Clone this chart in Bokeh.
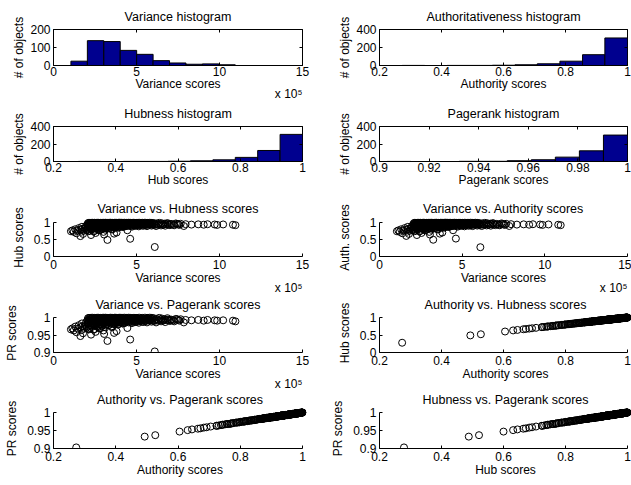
from bokeh.plotting import figure
from bokeh.layouts import column, row
from bokeh.models import Range1d, FixedTicker, LinearAxis, Title
from bokeh.embed import file_html
from bokeh.resources import INLINE

# ---------------- data ----------------
# histogram bin edges and counts
var_edges = [1.05, 2.04, 3.03, 4.02, 5.01, 6.00, 6.99, 7.98, 8.97, 9.96, 10.95]   # x 10^5
var_counts = [24, 138, 133, 84, 62, 27, 14, 7, 9, 4]
auth_edges = [0.273, 0.346, 0.418, 0.491, 0.564, 0.637, 0.709, 0.782, 0.855, 0.927, 1.0]
auth_counts = [1, 0, 1, 1, 3, 8, 19, 48, 120, 306]
hub_edges = [0.28, 0.352, 0.424, 0.496, 0.568, 0.64, 0.712, 0.784, 0.856, 0.928, 1.0]
hub_counts = [1, 0, 1, 1, 3, 8, 19, 47, 126, 310]
pr_edges = [0.903, 0.9127, 0.9224, 0.9321, 0.9418, 0.9515, 0.9612, 0.9709, 0.9806, 0.9903, 1.0]
pr_counts = [1, 0, 0, 2, 2, 9, 20, 50, 122, 302]

# per-object scores (variance in units of 10^5)
variance_e5 = [
    1.05, 1.14, 1.22, 1.31, 1.38, 1.47, 1.53, 1.62, 1.71, 1.78, 1.86, 1.97,
    2.05, 2.06, 2.08, 2.09, 2.11, 2.12, 2.14, 2.15, 2.17, 2.18,
    2.20, 2.21, 2.23, 2.24, 2.26, 2.27, 2.29, 2.30, 2.32, 2.33,
    2.35, 2.36, 2.38, 2.39, 2.41, 2.42, 2.44, 2.45, 2.47, 2.48,
    2.50, 2.51, 2.53, 2.54, 2.56, 2.57, 2.59, 2.60, 2.62, 2.63,
    2.65, 2.66, 2.68, 2.69, 2.71, 2.72, 2.74, 2.75, 2.77, 2.78,
    2.80, 2.81, 2.83, 2.84, 2.86, 2.87, 2.89, 2.90, 2.92, 2.93,
    2.95, 2.96, 2.98, 2.99, 3.00, 3.01, 3.02, 3.03,
    3.04, 3.05, 3.07, 3.08, 3.10, 3.11, 3.13, 3.14, 3.16, 3.17,
    3.19, 3.20, 3.22, 3.23, 3.25, 3.26, 3.28, 3.29, 3.31, 3.32,
    3.34, 3.35, 3.37, 3.38, 3.40, 3.41, 3.43, 3.44, 3.46, 3.47,
    3.49, 3.50, 3.52, 3.53, 3.55, 3.56, 3.58, 3.59, 3.61, 3.62,
    3.64, 3.65, 3.67, 3.68, 3.70, 3.71, 3.73, 3.74, 3.76, 3.77,
    3.79, 3.80, 3.82, 3.83, 3.85, 3.86, 3.88, 3.89, 3.91, 3.92,
    3.94, 3.95, 3.97, 3.98, 4.00, 4.01,
    4.03, 4.05, 4.08, 4.10, 4.12, 4.15, 4.17, 4.20, 4.22, 4.24,
    4.27, 4.29, 4.31, 4.34, 4.36, 4.39, 4.41, 4.43, 4.45, 4.48,
    4.50, 4.53, 4.55, 4.57, 4.60, 4.62, 4.64, 4.67, 4.69, 4.71,
    4.74, 4.76, 4.79, 4.81, 4.83, 4.86, 4.88, 4.90, 4.93, 4.95,
    4.97, 5.00,
    5.03, 5.06, 5.09, 5.12, 5.16, 5.19, 5.22, 5.25, 5.28, 5.32,
    5.35, 5.38, 5.41, 5.44, 5.48, 5.51, 5.54, 5.57, 5.60, 5.64,
    5.67, 5.70, 5.73, 5.76, 5.80, 5.83, 5.86, 5.89, 5.92, 5.95, 5.98,
    6.04, 6.10, 6.12, 6.21, 6.29, 6.37, 6.45, 6.53, 6.62, 6.70, 6.78, 6.86, 6.94,
    7.08, 7.23, 7.37, 7.52, 7.66, 7.85, 7.96,
    8.31, 8.72, 9.05, 9.28, 9.71, 9.86, 10.22, 10.81, 10.96,
    1.62, 1.68, 1.74, 1.83, 1.91, 1.99, 2.07, 2.13, 2.22, 2.31,
    2.37, 2.46, 2.52, 2.61, 2.67, 2.76, 2.85, 2.94, 3.06, 3.12,
    3.21, 3.33, 3.42, 3.51, 3.63, 3.72, 3.84, 3.93, 4.07, 4.18,
    5.05, 5.14, 5.27, 5.39, 5.52, 5.63, 5.78, 5.91, 6.07, 6.18,
    6.33, 6.48, 6.59, 6.73, 6.88, 7.01, 7.12, 7.27, 7.44, 7.58,
    4.26, 4.52, 4.73, 4.91]

authority = [
    0.742, 0.768, 0.724, 0.801, 0.683, 0.757, 0.836, 0.605, 0.872, 0.664, 0.815, 0.903,
    0.951, 0.874, 0.982, 0.812, 0.936, 0.897, 0.994, 0.763, 0.921, 0.968,
    0.845, 0.989, 0.908, 0.957, 0.631, 0.879, 0.975, 0.932, 0.826, 0.998,
    0.915, 0.944, 0.868, 0.986, 0.738, 0.929, 0.961, 0.889, 0.996, 0.851,
    0.939, 0.978, 0.903, 0.692, 0.964, 0.917, 0.991, 0.834, 0.948, 0.881,
    0.973, 0.926, 0.999, 0.798, 0.955, 0.893, 0.984, 0.862, 0.941, 0.971,
    0.776, 0.912, 0.993, 0.934, 0.857, 0.966, 0.988, 0.819, 0.947, 0.902,
    0.979, 0.938, 0.885, 0.997, 0.958, 0.724, 0.923, 0.981,
    0.962, 0.645, 0.915, 0.987, 0.876, 0.943, 0.998, 0.829, 0.954, 0.907,
    0.976, 0.931, 0.864, 0.993, 0.493, 0.949, 0.891, 0.983, 0.927, 0.969,
    0.843, 0.995, 0.918, 0.959, 0.884, 0.972, 0.937, 0.999, 0.869, 0.952,
    0.985, 0.909, 0.966, 0.792, 0.945, 0.992, 0.898, 0.977, 0.935, 0.856,
    0.963, 0.672, 0.989, 0.924, 0.953, 0.997, 0.878, 0.941, 0.974, 0.913,
    0.994, 0.705, 0.958, 0.895, 0.982, 0.933, 0.967, 0.848, 0.996, 0.929,
    0.971, 0.906, 0.988, 0.946, 1.000, 0.919,
    0.981, 0.938, 0.902, 0.996, 0.957, 0.874, 0.989, 0.944, 0.972, 0.916,
    0.998, 0.951, 0.887, 0.979, 0.933, 0.992, 0.961, 0.908, 0.772, 0.985,
    0.947, 0.999, 0.925, 0.969, 0.954, 0.527, 0.993, 0.936, 0.977, 0.899,
    0.964, 0.987, 0.921, 0.995, 0.948, 0.975, 0.931, 0.991, 0.959, 0.912,
    0.983, 0.942,
    0.993, 0.952, 0.976, 0.934, 0.998, 0.961, 0.943, 0.987, 0.925, 0.969,
    0.995, 0.947, 0.981, 0.938, 0.965, 0.999, 0.929, 0.972, 0.954, 0.991,
    0.944, 0.984, 0.962, 0.932, 0.997, 0.957, 0.978, 0.941, 0.989, 0.968, 0.936,
    0.985, 0.273, 0.946, 0.971, 0.932, 0.992, 0.955, 0.977, 0.938, 0.966, 0.949, 0.983, 0.941,
    0.958, 0.939, 0.972, 0.944, 0.962, 0.897, 0.951,
    0.938, 0.946, 0.935, 0.949, 0.941, 0.929, 0.943, 0.934, 0.921,
    0.786, 0.731, 0.812, 0.758, 0.843, 0.779, 0.861, 0.744, 0.823, 0.797,
    0.872, 0.751, 0.838, 0.805, 0.884, 0.769, 0.852, 0.817, 0.893, 0.788,
    0.866, 0.831, 0.899, 0.809, 0.877, 0.846, 0.905, 0.862, 0.887, 0.871,
    0.912, 0.887, 0.936, 0.903, 0.921, 0.894, 0.944, 0.909, 0.927, 0.897,
    0.951, 0.914, 0.933, 0.906, 0.958, 0.922, 0.947, 0.918, 0.961, 0.929,
    0.883, 0.896, 0.878, 0.904]

hub = [
    0.742, 0.768, 0.724, 0.801, 0.683, 0.757, 0.836, 0.600, 0.872, 0.664, 0.815, 0.903,
    0.951, 0.874, 0.982, 0.812, 0.936, 0.897, 0.994, 0.763, 0.921, 0.968,
    0.845, 0.989, 0.908, 0.957, 0.631, 0.879, 0.975, 0.932, 0.826, 0.998,
    0.915, 0.944, 0.868, 0.986, 0.738, 0.929, 0.961, 0.889, 0.996, 0.851,
    0.939, 0.978, 0.903, 0.692, 0.964, 0.917, 0.991, 0.834, 0.948, 0.881,
    0.973, 0.926, 0.999, 0.798, 0.955, 0.893, 0.984, 0.862, 0.941, 0.971,
    0.776, 0.912, 0.993, 0.934, 0.857, 0.966, 0.988, 0.819, 0.947, 0.902,
    0.979, 0.938, 0.885, 0.997, 0.958, 0.724, 0.923, 0.981,
    0.962, 0.645, 0.915, 0.987, 0.876, 0.943, 0.998, 0.829, 0.954, 0.907,
    0.976, 0.931, 0.864, 0.993, 0.488, 0.949, 0.891, 0.983, 0.927, 0.969,
    0.843, 0.995, 0.918, 0.959, 0.884, 0.972, 0.937, 0.999, 0.869, 0.952,
    0.985, 0.909, 0.966, 0.792, 0.945, 0.992, 0.898, 0.977, 0.935, 0.856,
    0.963, 0.672, 0.989, 0.924, 0.953, 0.997, 0.878, 0.941, 0.974, 0.913,
    0.994, 0.705, 0.958, 0.895, 0.982, 0.933, 0.967, 0.848, 0.996, 0.929,
    0.971, 0.906, 0.988, 0.946, 1.000, 0.919,
    0.981, 0.938, 0.902, 0.996, 0.957, 0.874, 0.989, 0.944, 0.972, 0.916,
    0.998, 0.951, 0.887, 0.979, 0.933, 0.992, 0.961, 0.908, 0.772, 0.985,
    0.947, 0.999, 0.925, 0.969, 0.954, 0.521, 0.993, 0.936, 0.977, 0.899,
    0.964, 0.987, 0.921, 0.995, 0.948, 0.975, 0.931, 0.991, 0.959, 0.912,
    0.983, 0.942,
    0.993, 0.952, 0.976, 0.934, 0.998, 0.961, 0.943, 0.987, 0.925, 0.969,
    0.995, 0.947, 0.981, 0.938, 0.965, 0.999, 0.929, 0.972, 0.954, 0.991,
    0.944, 0.984, 0.962, 0.932, 0.997, 0.957, 0.978, 0.941, 0.989, 0.968, 0.936,
    0.985, 0.279, 0.946, 0.971, 0.932, 0.992, 0.955, 0.977, 0.938, 0.966, 0.949, 0.983, 0.941,
    0.958, 0.939, 0.972, 0.944, 0.962, 0.897, 0.951,
    0.938, 0.946, 0.935, 0.949, 0.941, 0.929, 0.943, 0.934, 0.921,
    0.786, 0.731, 0.812, 0.758, 0.843, 0.779, 0.861, 0.744, 0.823, 0.797,
    0.872, 0.751, 0.838, 0.805, 0.884, 0.769, 0.852, 0.817, 0.893, 0.788,
    0.866, 0.831, 0.899, 0.809, 0.877, 0.846, 0.905, 0.862, 0.887, 0.871,
    0.912, 0.887, 0.936, 0.903, 0.921, 0.894, 0.944, 0.909, 0.927, 0.897,
    0.951, 0.914, 0.933, 0.906, 0.958, 0.922, 0.947, 0.918, 0.961, 0.929,
    0.883, 0.896, 0.878, 0.904]

pagerank = [
    0.966, 0.969, 0.963, 0.974, 0.958, 0.968, 0.978, 0.947, 0.983, 0.955, 0.975, 0.987,
    0.993, 0.983, 0.998, 0.975, 0.991, 0.986, 0.999, 0.968, 0.989, 0.996,
    0.979, 0.999, 0.988, 0.994, 0.951, 0.984, 0.997, 0.991, 0.977, 1.000,
    0.989, 0.993, 0.982, 0.998, 0.965, 0.991, 0.995, 0.985, 0.999, 0.980,
    0.992, 0.997, 0.987, 0.959, 0.995, 0.989, 0.999, 0.978, 0.993, 0.984,
    0.996, 0.990, 1.000, 0.973, 0.994, 0.986, 0.998, 0.982, 0.992, 0.996,
    0.970, 0.988, 0.999, 0.991, 0.981, 0.995, 0.998, 0.976, 0.993, 0.987,
    0.997, 0.992, 0.985, 1.000, 0.994, 0.963, 0.990, 0.997,
    0.995, 0.953, 0.989, 0.998, 0.984, 0.992, 1.000, 0.977, 0.994, 0.988,
    0.997, 0.991, 0.982, 0.999, 0.933, 0.993, 0.986, 0.998, 0.990, 0.996,
    0.979, 0.999, 0.989, 0.995, 0.985, 0.996, 0.992, 1.000, 0.983, 0.994,
    0.998, 0.988, 0.995, 0.972, 0.993, 0.999, 0.986, 0.997, 0.991, 0.981,
    0.995, 0.956, 0.999, 0.990, 0.994, 1.000, 0.984, 0.992, 0.997, 0.988,
    0.999, 0.961, 0.994, 0.986, 0.998, 0.991, 0.996, 0.980, 0.999, 0.991,
    0.996, 0.987, 0.998, 0.993, 1.000, 0.989,
    0.997, 0.992, 0.987, 0.999, 0.994, 0.983, 0.999, 0.993, 0.996, 0.989,
    1.000, 0.993, 0.985, 0.997, 0.991, 0.999, 0.995, 0.988, 0.970, 0.998,
    0.993, 1.000, 0.990, 0.996, 0.994, 0.937, 0.999, 0.991, 0.997, 0.987,
    0.995, 0.998, 0.989, 0.999, 0.993, 0.997, 0.991, 0.999, 0.995, 0.988,
    0.998, 0.992,
    0.999, 0.994, 0.997, 0.991, 1.000, 0.995, 0.992, 0.998, 0.990, 0.996,
    0.999, 0.993, 0.997, 0.992, 0.995, 1.000, 0.991, 0.996, 0.994, 0.999,
    0.993, 0.998, 0.995, 0.991, 1.000, 0.994, 0.997, 0.992, 0.999, 0.996, 0.991,
    0.998, 0.903, 0.993, 0.996, 0.991, 0.999, 0.994, 0.997, 0.992, 0.995, 0.993, 0.998, 0.992,
    0.994, 0.992, 0.996, 0.993, 0.995, 0.986, 0.993,
    0.992, 0.993, 0.991, 0.993, 0.992, 0.991, 0.992, 0.991, 0.989,
    0.972, 0.964, 0.975, 0.968, 0.979, 0.971, 0.982, 0.966, 0.976, 0.973,
    0.983, 0.967, 0.978, 0.974, 0.985, 0.969, 0.980, 0.976, 0.986, 0.972,
    0.982, 0.978, 0.987, 0.975, 0.984, 0.980, 0.987, 0.982, 0.985, 0.983,
    0.988, 0.985, 0.991, 0.987, 0.989, 0.986, 0.993, 0.988, 0.990, 0.986,
    0.993, 0.989, 0.991, 0.987, 0.994, 0.990, 0.993, 0.989, 0.995, 0.991,
    0.984, 0.986, 0.984, 0.987]

var_ticks = [0, 5, 10, 15]
score_ticks = [0.2, 0.4, 0.6, 0.8, 1]
pr_hist_ticks = [0.9, 0.92, 0.94, 0.96, 0.98, 1]
count_ticks_200 = [0, 100, 200]
count_ticks_400 = [0, 200, 400]
unit_ticks = [0, 0.5, 1]
pr_ticks = [0.9, 0.95, 1]

# ---------------- style / geometry ----------------
FONT = "Liberation Sans"
TICK_FS = "12px"
LABEL_FS = "12px"
TITLE_FS = "12.5px"
BAR = "#00008f"

ROW_H = [101, 91, 103, 96, 94]
FRAME_TOP = [29, 25, 30, 22, 21]
FRAME_H = [36, 35, 34, 35, 36]
TITLE_S = [7, 7, 1, 0, -1]
COL_W = [315, 316]
COL_LEFT = [53, 64]
COL_FRAME = [249, 248]
EXT = 4  # px of extra room above / right of scatter limits for the markers


def style_axis(ax, ticks, label="", show=True, line=True, standoff=3, lab_standoff=0):
    ax.ticker = FixedTicker(ticks=ticks)
    ax.minor_tick_line_color = None
    ax.major_tick_in = 3
    ax.major_tick_out = 0
    ax.major_tick_line_color = "black"
    ax.major_tick_line_width = 1
    ax.axis_line_color = "black" if line else None
    ax.axis_line_width = 1
    ax.major_label_text_font = FONT
    if show:
        ax.major_label_text_color = "black"
        ax.major_label_text_font_size = TICK_FS
        ax.major_label_standoff = standoff
    else:
        ax.major_label_text_color = None
        ax.major_label_text_font_size = "0px"
        ax.major_label_standoff = 0
    ax.axis_label = label if label else None
    ax.axis_label_text_font = FONT
    ax.axis_label_text_font_size = LABEL_FS
    ax.axis_label_text_font_style = "normal"
    ax.axis_label_text_color = "black"
    ax.axis_label_standoff = lab_standoff


def make_fig(r, c, title, xr, yr, xlabel, ylabel, xticks, yticks, hist, xext=False):
    top = FRAME_TOP[r] - (0 if hist else EXT)
    fh = FRAME_H[r] + (0 if hist else EXT)
    fw = COL_FRAME[c] + (EXT if xext else 0)
    h = ROW_H[r]
    p = figure(width=COL_W[c], height=h, x_range=xr, y_range=yr,
               output_backend="svg", toolbar_location=None,
               min_border_left=COL_LEFT[c], min_border_right=COL_W[c] - COL_LEFT[c] - fw,
               min_border_top=top, min_border_bottom=h - top - fh)
    p.xgrid.visible = False
    p.ygrid.visible = False
    p.background_fill_color = "white"
    p.border_fill_color = "white"
    p.title.text = title
    p.title.align = "center"
    p.title.vertical_align = "top"
    p.title.text_font = FONT
    p.title.text_font_size = TITLE_FS
    p.title.text_font_style = "normal"
    p.title.text_color = "black"
    p.title.standoff = TITLE_S[r]
    if hist:
        style_axis(p.xaxis[0], xticks, xlabel, standoff=1, lab_standoff=-2)
        style_axis(p.yaxis[0], yticks, ylabel, standoff=3, lab_standoff=1)
        p.outline_line_color = "black"
        p.outline_line_width = 1
        ta = LinearAxis()
        style_axis(ta, xticks, show=False, line=False)
        p.add_layout(ta, "above")
        ra = LinearAxis()
        style_axis(ra, yticks, show=False, line=False)
        p.add_layout(ra, "right")
    else:
        style_axis(p.xaxis[0], xticks, xlabel, standoff=3, lab_standoff=-1)
        style_axis(p.yaxis[0], yticks, ylabel, standoff=3, lab_standoff=5)
        p.outline_line_color = None
    return p


def exp_title(p, s):
    t = Title(text="x 10\u2075", align="right", vertical_align="top", standoff=s,
              text_font=FONT, text_font_size="12px", text_font_style="normal",
              text_color="black")
    p.add_layout(t, "below")


def hist_fig(r, c, title, edges, counts, xr, xticks, xlabel, ymax, yticks):
    p = make_fig(r, c, title, xr, Range1d(0, ymax), xlabel, "# of objects", xticks, yticks, True)
    p.quad(left=edges[:-1], right=edges[1:], bottom=0, top=counts,
           fill_color=BAR, line_color="black", line_width=1)
    return p


def scatter_fig(r, c, title, xs, ys, xlabel, ylabel, xkind, ykind):
    fw = COL_FRAME[c]
    fh = FRAME_H[r]
    if xkind == "var":
        xr = Range1d(0, 15); xt = var_ticks; xb = (0, 15); xext = False
    else:
        xr = Range1d(0.2, 1 + 0.8 * EXT / fw); xt = score_ticks; xb = (0.2, 1); xext = True
    if ykind == "unit":
        y0, y1 = 0, 1 + EXT / fh; yt = unit_ticks; yb = (0, 1)
    else:
        y0, y1 = 0.9, 1 + 0.1 * EXT / fh; yt = pr_ticks; yb = (0.9, 1)
    p = make_fig(r, c, title, xr, Range1d(y0, y1), xlabel, ylabel, xt, yt, False, xext=xext)
    p.xaxis[0].bounds = xb
    p.yaxis[0].bounds = yb
    p.scatter(xs, ys, marker="circle", size=7, fill_color=None,
              line_color="black", line_width=1)
    if xkind == "var":
        exp_title(p, -14)
    return p


h1 = hist_fig(0, 0, "Variance histogram", var_edges, var_counts, Range1d(0, 15), var_ticks,
              "Variance scores", 200, count_ticks_200)
exp_title(h1, -13)
h2 = hist_fig(0, 1, "Authoritativeness histogram", auth_edges, auth_counts, Range1d(0.2, 1),
              score_ticks, "Authority scores", 400, count_ticks_400)
h3 = hist_fig(1, 0, "Hubness histogram", hub_edges, hub_counts, Range1d(0.2, 1),
              score_ticks, "Hub scores", 400, count_ticks_400)
h4 = hist_fig(1, 1, "Pagerank histogram", pr_edges, pr_counts, Range1d(0.9, 1),
              pr_hist_ticks, "Pagerank scores", 400, count_ticks_400)

s1 = scatter_fig(2, 0, "Variance vs. Hubness scores", variance_e5, hub,
                 "Variance scores", "Hub scores", "var", "unit")
s2 = scatter_fig(2, 1, "Variance vs. Authority scores", variance_e5, authority,
                 "Variance scores", "Auth. scores", "var", "unit")
s3 = scatter_fig(3, 0, "Variance vs. Pagerank scores", variance_e5, pagerank,
                 "Variance scores", "PR scores", "var", "pr")
s4 = scatter_fig(3, 1, "Authority vs. Hubness scores", authority, hub,
                 "Authority scores", "Hub scores", "score", "unit")
s5 = scatter_fig(4, 0, "Authority vs. Pagerank scores", authority, pagerank,
                 "Authority scores", "PR scores", "score", "pr")
s6 = scatter_fig(4, 1, "Hubness vs. Pagerank scores", hub, pagerank,
                 "Hub scores", "PR scores", "score", "pr")

layout = column(row(h1, h2), row(h3, h4), row(s1, s2), row(s3, s4), row(s5, s6))

open("out.html", "w").write(file_html(layout, INLINE))
